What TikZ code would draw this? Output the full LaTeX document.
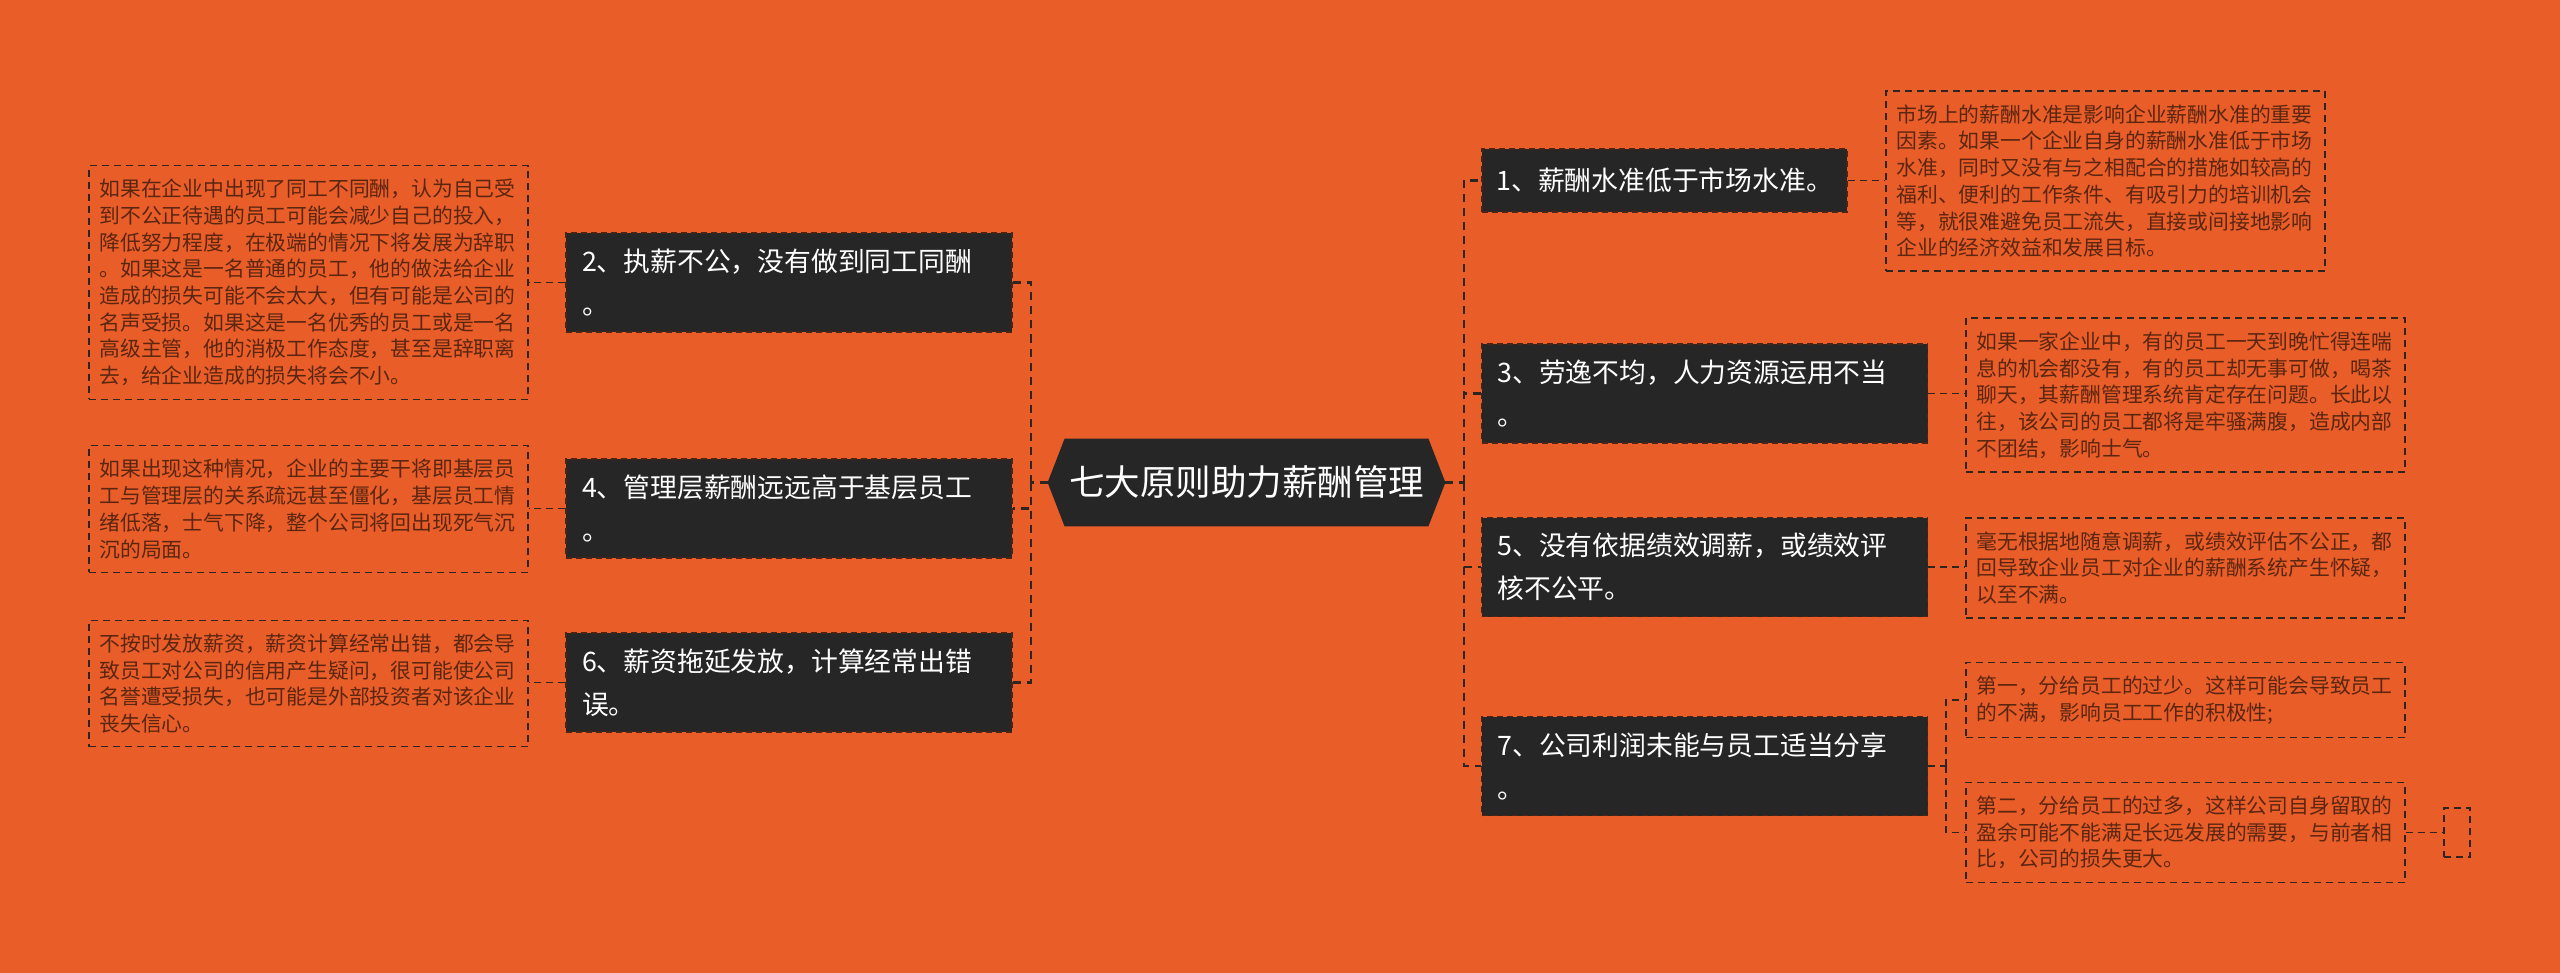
\documentclass[tikz,border=0pt]{standalone}
\usepackage{fontspec}
\setmainfont{Noto Sans CJK SC}
\definecolor{SalaryOrange}{HTML}{E95D29}
\definecolor{SalaryDark}{HTML}{262626}
\definecolor{SalaryEdge}{HTML}{4A2414}
\definecolor{SalaryBrown}{HTML}{5B2610}
\definecolor{SalaryLine}{HTML}{2E2420}
\usetikzlibrary{backgrounds}

\tikzset{
  titlebox/.style={
    text=white,
    minimum width=198.5pt,
    minimum height=43.5pt,
    inner sep=0pt,
    font=\fontsize{17.75}{20}\selectfont
  },
  branchbox/.style={
    fill=SalaryDark,
    draw=SalaryEdge,
    dash pattern=on 3pt off 2pt,
    line width=0.6pt,
    text=white,
    text width=207pt,
    inner xsep=8pt,
    inner ysep=0pt,
    minimum height=49.5pt,
    align=left,
    font=\fontsize{13.4}{21.5}\selectfont
  },
  notebox/.style={
    draw=SalaryLine,
    dash pattern=on 3.5pt off 2.5pt,
    line width=0.6pt,
    text=SalaryBrown,
    text width=209pt,
    inner xsep=5.25pt,
    inner ysep=6.8pt,
    align=left,
    font=\fontsize{10.4}{13.35}\selectfont
  },
  link/.style={draw=SalaryLine, dash pattern=on 4pt off 3pt, line width=1.2pt},
  sublink/.style={draw=SalaryLine, dash pattern=on 3.5pt off 2.5pt, line width=0.7pt}
}

\begin{document}
\begin{tikzpicture}[x=0.5pt,y=-0.5pt]
  % centre
  \node[titlebox] (title) at (1246.5,482.5) {七大原则助力薪酬管理};
  \begin{scope}[on background layer]
    \fill[SalaryOrange] (0,0) rectangle (2560,973);
    \fill[SalaryDark] (title.west) -- ([xshift=8.5pt]title.north west)
      -- ([xshift=-8.5pt]title.north east) -- (title.east)
      -- ([xshift=-8.5pt]title.south east) -- ([xshift=8.5pt]title.south west) -- cycle;
  \end{scope}
  \coordinate (lbar) at (1031,482.5);
  \coordinate (rbar) at (1464,482.5);

  % left branches
  \node[branchbox] (n2) at (789,282.5) {2、执薪不公，没有做到同工同酬\\。};
  \node[branchbox] (n4) at (789,508.5) {4、管理层薪酬远远高于基层员工\\。};
  \node[branchbox] (n6) at (789,682.5) {6、薪资拖延发放，计算经常出错\\误。};

  \node[notebox] (d2) at (308.5,282.5) {如果在企业中出现了同工不同酬，认为自己受\\到不公正待遇的员工可能会减少自己的投入，\\降低努力程度，在极端的情况下将发展为辞职\\。如果这是一名普通的员工，他的做法给企业\\造成的损失可能不会太大，但有可能是公司的\\名声受损。如果这是一名优秀的员工或是一名\\高级主管，他的消极工作态度，甚至是辞职离\\去，给企业造成的损失将会不小。};
  \node[notebox] (d4) at (308.5,509) {如果出现这种情况，企业的主要干将即基层员\\工与管理层的关系疏远甚至僵化，基层员工情\\绪低落，士气下降，整个公司将回出现死气沉\\沉的局面。};
  \node[notebox] (d6) at (308.5,683.5) {不按时发放薪资，薪资计算经常出错，都会导\\致员工对公司的信用产生疑问，很可能使公司\\名誉遭受损失，也可能是外部投资者对该企业\\丧失信心。};

  % right branches
  \node[branchbox, text width=168pt, inner xsep=7.25pt, minimum height=31.5pt] (n1) at (1664.5,180.5) {1、薪酬水准低于市场水准。};
  \node[branchbox] (n3) at (1704.5,393.5) {3、劳逸不均，人力资源运用不当\\。};
  \node[branchbox] (n5) at (1704.5,567) {5、没有依据绩效调薪，或绩效评\\核不公平。};
  \node[branchbox] (n7) at (1704.5,766) {7、公司利润未能与员工适当分享\\。};

  \node[notebox] (d1) at (2105.5,181) {市场上的薪酬水准是影响企业薪酬水准的重要\\因素。如果一个企业自身的薪酬水准低于市场\\水准，同时又没有与之相配合的措施如较高的\\福利、便利的工作条件、有吸引力的培训机会\\等，就很难避免员工流失，直接或间接地影响\\企业的经济效益和发展目标。};
  \node[notebox] (d3) at (2185.5,395) {如果一家企业中，有的员工一天到晚忙得连喘\\息的机会都没有，有的员工却无事可做，喝茶\\聊天，其薪酬管理系统肯定存在问题。长此以\\往，该公司的员工都将是牢骚满腹，造成内部\\不团结，影响士气。};
  \node[notebox] (d5) at (2185.5,568) {毫无根据地随意调薪，或绩效评估不公正，都\\回导致企业员工对企业的薪酬系统产生怀疑，\\以至不满。};
  \node[notebox] (d7a) at (2185.5,700) {第一，分给员工的过少。这样可能会导致员工\\的不满，影响员工工作的积极性;};
  \node[notebox] (d7b) at (2185.5,832.5) {第二，分给员工的过多，这样公司自身留取的\\盈余可能不能满足长远发展的需要，与前者相\\比，公司的损失更大。};
  \node[notebox, text width=0pt, inner xsep=6.5pt, minimum height=24.5pt] (e7) at (2457,832.5) {};
  \coordinate (sbar) at (1946,766);

  % connectors
  \draw[link] (title.west) -- (lbar);
  \draw[link] (title.east) -- (rbar);
  \foreach \n in {n2,n4,n6}
    \draw[link] (lbar) |- (\n.east);
  \foreach \n in {n1,n3,n5,n7}
    \draw[link] (rbar) |- (\n.west);
  \foreach \n/\d in {n2/d2,n4/d4,n6/d6}
    \draw[sublink] (\n.west) -- (\n.west -| \d.east);
  \foreach \n/\d in {n1/d1,n3/d3,n5/d5}
    \draw[sublink] (\n.east) -- (\n.east -| \d.west);
  \draw[sublink] (n7.east) -- (sbar);
  \draw[sublink] (sbar) |- (d7a.west);
  \draw[sublink] (sbar) |- (d7b.west);
  \draw[sublink] (d7b.east) -- (e7.west);
\end{tikzpicture}
\end{document}
